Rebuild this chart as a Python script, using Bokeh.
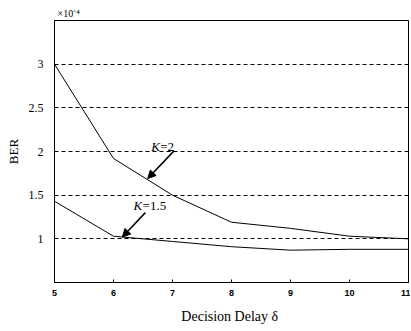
from bokeh.plotting import figure
from bokeh.models import FixedTicker, CustomJSTickFormatter, Label, Arrow, NormalHead, Range1d
from bokeh.embed import file_html
from bokeh.resources import INLINE

delay = [5, 6, 7, 8, 9, 10, 11]
ber_k2 = [3.0, 1.92, 1.5, 1.19, 1.12, 1.03, 1.0]
ber_k15 = [1.43, 1.03, 0.97, 0.91, 0.87, 0.88, 0.88]
y_ticks = [1, 1.5, 2, 2.5, 3]
x_ticks = [5, 6, 7, 8, 9, 10, 11]

SERIF = "Liberation Serif"

p = figure(width=410, height=330, output_backend="svg", toolbar_location=None,
           x_range=Range1d(5, 11), y_range=Range1d(0.5, 3.5))
p.min_border_left = 54
p.min_border_top = 20
p.min_border_bottom = 48
p.min_border_right = 2
p.background_fill_color = "white"
p.border_fill_color = "white"
p.outline_line_color = "black"
p.outline_line_width = 1

p.title.text = "×10⁻⁴"
p.title.text_font = SERIF
p.title.text_font_size = "10px"
p.title.text_font_style = "normal"
p.title.offset = 3
p.title.standoff = 4
p.title.text_color = "black"

p.line(delay, ber_k2, line_color="black", line_width=1)
p.line(delay, ber_k15, line_color="black", line_width=1)

p.xaxis.ticker = FixedTicker(ticks=x_ticks)
p.yaxis.ticker = FixedTicker(ticks=y_ticks)
p.xaxis.formatter = CustomJSTickFormatter(code="return tick.toString();")
p.yaxis.formatter = CustomJSTickFormatter(code="return tick.toString();")
for ax in (p.xaxis[0], p.yaxis[0]):
    ax.axis_line_color = "black"
    ax.major_tick_line_color = "black"
    ax.major_tick_in = 3
    ax.major_tick_out = 0
    ax.minor_tick_line_color = None
    ax.axis_label_text_font_style = "normal"
    ax.axis_label_text_color = "black"
    ax.major_label_text_color = "black"

p.xaxis.major_label_text_font = "Liberation Sans"
p.xaxis.major_label_text_font_size = "9px"
p.xaxis.major_label_text_font_style = "bold"
p.xaxis.major_label_standoff = 7
p.xaxis.axis_label = "Decision Delay  δ"
p.xaxis.axis_label_text_font = SERIF
p.xaxis.axis_label_text_font_size = "14px"
p.xaxis.axis_label_standoff = 10

p.yaxis.major_label_text_font = SERIF
p.yaxis.major_label_text_font_size = "12px"
p.yaxis.major_label_standoff = 11
p.yaxis.axis_label = "BER"
p.yaxis.axis_label_text_font = SERIF
p.yaxis.axis_label_text_font_size = "13px"
p.yaxis.axis_label_standoff = 5

p.xgrid.grid_line_color = None
p.ygrid.grid_line_color = "black"
p.ygrid.grid_line_dash = "4 3"
p.ygrid.grid_line_width = 1

# annotations
p.add_layout(Label(x=6.64, y=2.06, text="K", text_font=SERIF, text_font_style="italic",
                   text_font_size="13px", text_baseline="middle", text_color="black"))
p.add_layout(Label(x=6.64, y=2.06, x_offset=9, text="=2", text_font=SERIF,
                   text_font_size="13px", text_baseline="middle", text_color="black"))
p.add_layout(Label(x=6.34, y=1.38, text="K", text_font=SERIF, text_font_style="italic",
                   text_font_size="13px", text_baseline="middle", text_color="black"))
p.add_layout(Label(x=6.34, y=1.38, x_offset=9, text="=1.5", text_font=SERIF,
                   text_font_size="13px", text_baseline="middle", text_color="black"))

p.add_layout(Arrow(x_start=7.03, y_start=2.01, x_end=6.58, y_end=1.69,
                   line_color="black", line_width=1.5,
                   end=NormalHead(size=8, fill_color="black", line_color="black")))
p.add_layout(Arrow(x_start=6.54, y_start=1.30, x_end=6.15, y_end=1.02,
                   line_color="black", line_width=1.5,
                   end=NormalHead(size=8, fill_color="black", line_color="black")))

open("out.html", "w").write(file_html(p, INLINE))
